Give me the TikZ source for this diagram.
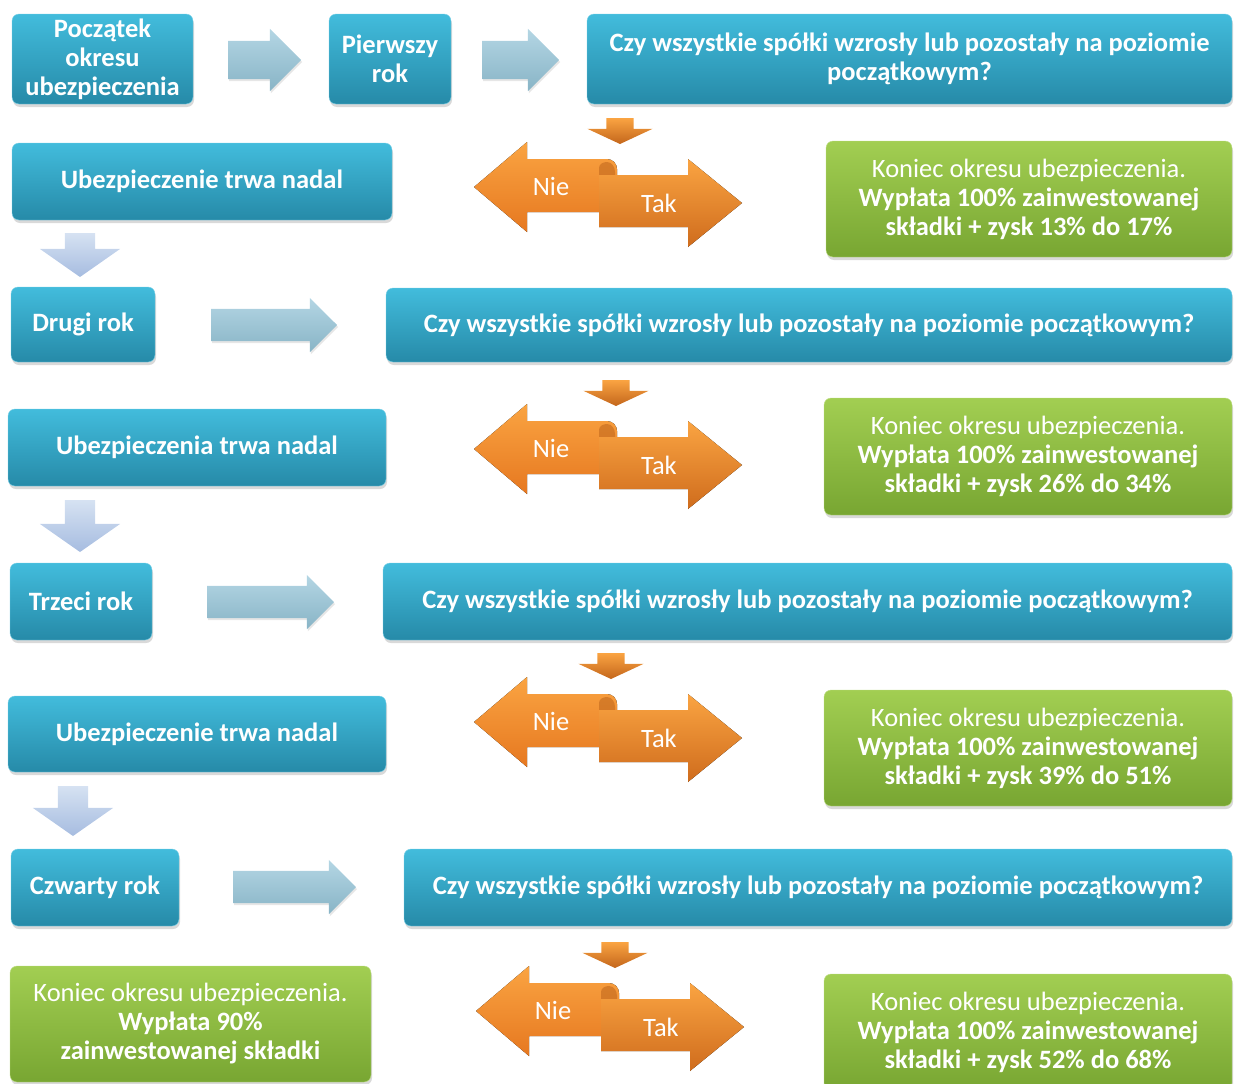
\documentclass[tikz,border=0pt]{standalone}
\usepackage{fontspec}
\setmainfont{Carlito}
\usepackage{tikz}
\usetikzlibrary{shapes.arrows, shadows, positioning}

\definecolor{niebT}{RGB}{66,188,220}
\definecolor{niebB}{RGB}{38,138,168}
\definecolor{zielT}{RGB}{162,206,82}
\definecolor{zielB}{RGB}{120,166,50}
\definecolor{pomT}{RGB}{250,164,66}
\definecolor{pomB}{RGB}{230,120,32}
\definecolor{jasT}{RGB}{180,214,228}
\definecolor{jasB}{RGB}{136,180,198}
\definecolor{liT}{RGB}{214,226,242}
\definecolor{liB}{RGB}{166,188,224}

\begin{document}
\begin{tikzpicture}[x=1pt, y=-1pt, arro/.style = {single arrow, anchor=tail, outer sep=0pt}]

\tikzstyle{blok} = [rounded corners=7pt, top color=niebT, bottom color=niebB, draw=niebT!70!white, thin, text=white, align=center, font=\bfseries\fontsize{26.5}{29}\selectfont, inner sep=0pt, drop shadow={opacity=0.3, shadow xshift=1pt, shadow yshift=-3pt}]
\tikzstyle{koniec} = [rounded corners=7pt, top color=zielT, bottom color=zielB, draw=zielT!70!white, thin, text=white, align=center, font=\fontsize{26.5}{29}\selectfont, inner sep=0pt, drop shadow={opacity=0.3, shadow xshift=1pt, shadow yshift=-3pt}]
\tikzstyle{dalej} = [arro, inner xsep=0pt, top color=jasT, bottom color=jasB, drop shadow={opacity=0.2, shadow xshift=1pt, shadow yshift=-2pt}]
\tikzstyle{wdol} = [arro, shape border rotate=270, single arrow tip angle=110, inner ysep=0pt, inner xsep=15pt, single arrow head extend=25pt, top color=liT, bottom color=liB]
\tikzstyle{spadek} = [arro, shape border rotate=270, single arrow tip angle=130, inner ysep=0pt, inner xsep=13.5pt, single arrow head extend=19pt, top color=pomT, bottom color=pomB!85!black]
\tikzstyle{odp} = [text=white, font=\fontsize{26.5}{29}\selectfont]

\useasboundingbox (0,0) rectangle (1234,1084);

% first row
\node[blok, minimum width=181pt, minimum height=90pt] at (102.5,59) (pocz) {Początek\\okresu\\ubezpieczenia};
\node[blok, minimum width=122pt, minimum height=90pt] at (390,59) (rok1) {Pierwszy\\rok};
\node[blok, minimum width=645pt, minimum height=90pt] at (909.5,59) (pyt1) {Czy wszystkie spółki wzrosły lub pozostały na poziomie\\początkowym?};
% arrows
\node[dalej, minimum height=73pt, inner ysep=19pt, single arrow head extend=12pt] at (228,60) (d1) {};
\node[dalej, minimum height=77pt, inner ysep=19pt, single arrow head extend=12pt] at (482,60) (d2) {};

% second year
\node[blok, minimum width=380pt, minimum height=77pt] at (202,181.5) (trwa1) {Ubezpieczenie trwa nadal};
\node[koniec, minimum width=406pt, minimum height=116pt] at (1029,199) (kon1) {Koniec okresu ubezpieczenia.\\\textbf{Wypłata 100\% zainwestowanej}\\\textbf{składki + zysk 13\% do 17\%}};
\node[wdol, minimum height=44pt] at (80,233) (w1) {};
\node[blok, minimum width=144pt, minimum height=75pt] at (83,324.5) (rok2) {Drugi rok};
\node[blok, minimum width=846pt, minimum height=74pt] at (809,325) (pyt2) {Czy wszystkie spółki wzrosły lub pozostały na poziomie początkowym?};
\node[dalej, minimum height=126pt, inner ysep=16pt, single arrow head extend=11pt] at (211,325) (d3) {};

% third year
\node[blok, minimum width=378pt, minimum height=77pt] at (197,447.5) (trwa2) {Ubezpieczenia trwa nadal};
\node[koniec, minimum width=408pt, minimum height=117pt] at (1028,456.5) (kon2) {Koniec okresu ubezpieczenia.\\\textbf{Wypłata 100\% zainwestowanej}\\\textbf{składki + zysk 26\% do 34\%}};
\node[wdol, minimum height=52pt] at (80,500) (w2) {};
\node[blok, minimum width=142pt, minimum height=77pt] at (81,601.5) (rok3) {Trzeci rok};
\node[blok, minimum width=849pt, minimum height=77pt] at (807.5,601.5) (pyt3) {Czy wszystkie spółki wzrosły lub pozostały na poziomie początkowym?};
\node[dalej, minimum height=127pt, inner ysep=16pt, single arrow head extend=11pt] at (207,602) (d4) {};

% fourth year
\node[blok, minimum width=378pt, minimum height=76pt] at (197,734) (trwa3) {Ubezpieczenie trwa nadal};
\node[koniec, minimum width=408pt, minimum height=116pt] at (1028,748) (kon3) {Koniec okresu ubezpieczenia.\\\textbf{Wypłata 100\% zainwestowanej}\\\textbf{składki + zysk 39\% do 51\%}};
\node[wdol, minimum height=50pt] at (73,786) (w3) {};
\node[blok, minimum width=168pt, minimum height=77pt] at (95,887.5) (rok4) {Czwarty rok};
\node[blok, minimum width=828pt, minimum height=77pt] at (818,887.5) (pyt4) {Czy wszystkie spółki wzrosły lub pozostały na poziomie początkowym?};
\node[dalej, minimum height=123pt, inner ysep=16pt, single arrow head extend=11pt] at (233,887) (d5) {};

% end
\node[koniec, minimum width=361pt, minimum height=116pt] at (190.5,1024) (kon4) {Koniec okresu ubezpieczenia.\\\textbf{Wypłata 90\%}\\\textbf{zainwestowanej składki}};
\node[koniec, minimum width=408pt, minimum height=116pt] at (1028,1032) (kon5) {Koniec okresu ubezpieczenia.\\\textbf{Wypłata 100\% zainwestowanej}\\\textbf{składki + zysk 52\% do 68\%}};

% choices
\foreach \x/\y/\s/\n in {474/142/620/a, 474/404/616/b, 474/677/611/c, 476/966/615/d} {
  \node[spadek, minimum height=26pt] at (\s,\y-24) (sp\n) {};
  \begin{scope}[shift={(\x,\y)}]
    \fill[top color=pomT, bottom color=pomB] (0,45) -- (53,0) -- (53,17) -- (133,17) to[out=0,in=90] (143,27) -- (143,70) -- (53,70) -- (53,90) -- cycle;
    \fill[pomB!80!black, opacity=0.5] (125,33) -- (125,26) to[out=90,in=180] (133,20) to[out=0,in=90] (141,30) -- (141,33) -- cycle;
    \fill[top color=pomT, bottom color=pomB!90!black] (125,33) -- (214,33) -- (214,17) -- (268,61) -- (214,105) -- (214,85) -- (125,85) -- cycle;
    \node[odp] at (77,44) (nie\n) {Nie};
    \node[odp] at (185,61) (tak\n) {Tak};
  \end{scope}
}
\end{tikzpicture}
\end{document}
